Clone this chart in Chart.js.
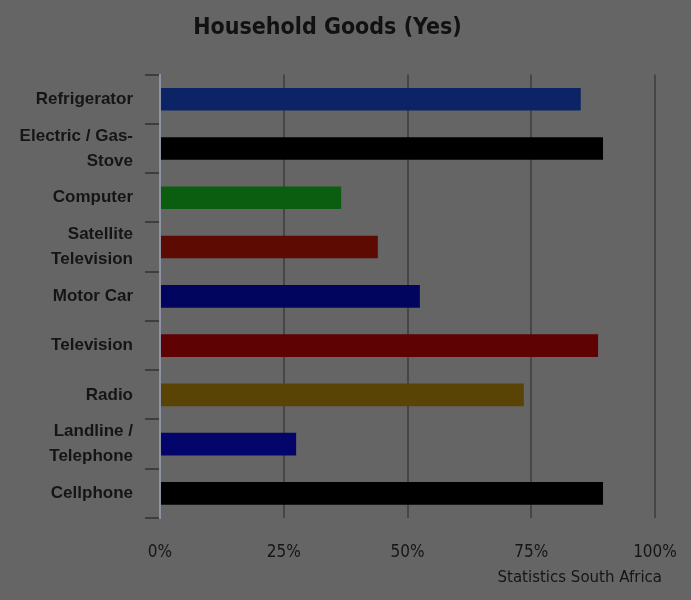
<!DOCTYPE html>
<html>
<head>
<meta charset="utf-8">
<script src="https://cdn.jsdelivr.net/npm/chart.js@4"></script>
<style>
  html, body { margin: 0; padding: 0; background: #656565; }
  #wrap { width: 691px; height: 600px; }
</style>
</head>
<body>
<div id="wrap"><canvas id="myChart" width="691" height="600"></canvas></div>
<script>
// data
const categories = [
  "Refrigerator",
  ["Electric / Gas-", "Stove"],
  "Computer",
  ["Satellite", "Television"],
  "Motor Car",
  "Television",
  "Radio",
  ["Landline /", "Telephone"],
  "Cellphone"
];
const values = [85, 89.5, 36.6, 44, 52.5, 88.5, 73.5, 27.5, 89.5];
const barColors = ["#0c2466", "#000000", "#0b5e10", "#5c0a02", "#02055e", "#5e0204", "#5a4405", "#03056a", "#000000"];
const xTicks = [0, 25, 50, 75, 100];
const title = "Household Goods (Yes)";
const source = "Statistics South Africa";

const narrow = "'Liberation Sans Narrow', 'DejaVu Sans Condensed', 'Liberation Sans', sans-serif";

// source note bottom right
const sourcePlugin = {
  id: "sourceNote",
  afterDraw(chart) {
    const ctx = chart.ctx;
    ctx.save();
    ctx.font = "15px 'DejaVu Sans', sans-serif";
    ctx.fillStyle = "#151515";
    ctx.textAlign = "right";
    ctx.textBaseline = "middle";
    ctx.fillText(source, 662, 578);
    ctx.restore();
  }
};

let ctx = document.getElementById("myChart").getContext("2d");
let myChart = new Chart(ctx, {
  type: "bar",
  data: {
    labels: categories,
    datasets: [
      {
        data: values,
        backgroundColor: barColors,
        barPercentage: 0.46,
        categoryPercentage: 1,
      },
    ],
  },
  options: {
    indexAxis: "y",
    responsive: false,
    animation: false,
    layout: { padding: { left: 0, right: 36, top: 0, bottom: 0 } },
    plugins: {
      legend: { display: false },
      tooltip: { enabled: false },
      title: {
        display: true,
        text: title,
        color: "#111111",
        font: { family: narrow, size: 23, weight: "bold" },
        padding: { top: 14, bottom: 33 },
      },
    },
    scales: {
      x: {
        min: 0,
        max: 100,
        afterBuildTicks: (scale) => {
          scale.ticks = xTicks.map((v) => ({ value: v }));
        },
        afterFit: (scale) => {
          scale.height = 82;
        },
        grid: {
          color: (c) => (c.tick && c.tick.value === 0 ? "rgba(0,0,0,0)" : "#464646"),
          lineWidth: 2,
          drawTicks: true,
          tickLength: 20,
          tickColor: "rgba(0,0,0,0)",
        },
        border: { display: false },
        ticks: {
          color: "#151515",
          padding: 4,
          font: { family: "'DejaVu Sans Condensed', 'DejaVu Sans', sans-serif", size: 17 },
          callback: (v) => v + "%",
        },
      },
      y: {
        afterFit: (scale) => {
          scale.width = 160;
        },
        grid: {
          offset: true,
          drawOnChartArea: false,
          drawTicks: true,
          tickLength: 15,
          color: "#3e3e3e",
          lineWidth: 2,
        },
        border: { display: true, color: "#8c92a2", width: 2 },
        ticks: {
          autoSkip: false,
          color: "#151515",
          padding: 12,
          font: { family: "'Liberation Sans', Arial, sans-serif", size: 17, weight: "bold", lineHeight: 1.45 },
        },
      },
    },
  },
  plugins: [sourcePlugin],
});
</script>
</body>
</html>
